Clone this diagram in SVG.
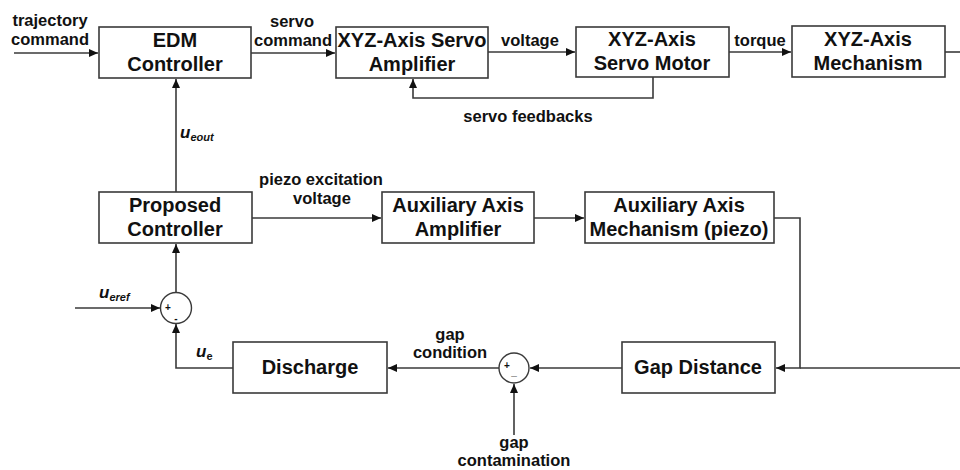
<svg xmlns="http://www.w3.org/2000/svg" width="960" height="470" viewBox="0 0 960 470">
<style>
.box{fill:#fff;stroke:#3a3a3a;stroke-width:1.6}
.sum{fill:#fff;stroke:#3a3a3a;stroke-width:1.4}
.t{font-family:"Liberation Sans",Arial,sans-serif;font-weight:bold;font-size:20px;fill:#111;text-anchor:middle}
.l{font-family:"Liberation Sans",Arial,sans-serif;font-weight:bold;font-size:16.5px;fill:#111;text-anchor:middle}
.v{font-family:"Liberation Sans",Arial,sans-serif;font-weight:bold;font-style:italic;font-size:17px;fill:#111}
.sub{font-size:11px}
.sg{font-family:"Liberation Sans",Arial,sans-serif;font-weight:bold;font-size:10px;fill:#111;text-anchor:middle}
.c{fill:none;stroke:#3a3a3a;stroke-width:1.6}
</style>
<defs>
<marker id="ah" markerUnits="userSpaceOnUse" markerWidth="10" markerHeight="10" viewBox="0 0 10 10" refX="9" refY="5" orient="auto">
<path d="M0,1 L9,5 L0,9 Z" fill="#111"/>
</marker>
</defs>
<g id="connectors">
<path class="c" d="M14,53 H98" marker-end="url(#ah)"/>
<path class="c" d="M251,53 H335" marker-end="url(#ah)"/>
<path class="c" d="M488,52 H575" marker-end="url(#ah)"/>
<path class="c" d="M729,52 H791" marker-end="url(#ah)"/>
<path class="c" d="M945,52 H960"/>
<path class="c" d="M653,77 V98 H413 V79" marker-end="url(#ah)"/>
<path class="c" d="M176,192 V79" marker-end="url(#ah)"/>
<path class="c" d="M252,218 H381" marker-end="url(#ah)"/>
<path class="c" d="M534,218 H584" marker-end="url(#ah)"/>
<path class="c" d="M774,218 H800 V368 H776" marker-end="url(#ah)"/>
<path class="c" d="M960,368 H800"/>
<path class="c" d="M622,368 H530" marker-end="url(#ah)"/>
<path class="c" d="M499,368 H388" marker-end="url(#ah)"/>
<path class="c" d="M514,435 V384" marker-end="url(#ah)"/>
<path class="c" d="M233,368 H176 V324" marker-end="url(#ah)"/>
<path class="c" d="M75,308 H160" marker-end="url(#ah)"/>
<path class="c" d="M176,292 V244" marker-end="url(#ah)"/>
</g>
<g id="labels">
<text class="l" x="50" y="26">trajectory</text>
<text class="l" x="50" y="45">command</text>
<text class="l" x="292" y="27">servo</text>
<text class="l" x="293" y="46">command</text>
<text class="l" x="530" y="46">voltage</text>
<text class="l" x="760" y="46">torque</text>
<text class="l" x="528" y="122">servo feedbacks</text>
<text class="l" x="321" y="185">piezo excitation</text>
<text class="l" x="322" y="204">voltage</text>
<text class="l" x="450" y="340">gap</text>
<text class="l" x="450" y="358">condition</text>
<text class="l" x="514" y="448">gap</text>
<text class="l" x="514" y="466">contamination</text>
<text class="v" x="180" y="138">u<tspan class="sub" dy="3">eout</tspan></text>
<text class="v" x="99" y="298">u<tspan class="sub" dy="3">eref</tspan></text>
<text class="v" x="196" y="357">u<tspan class="sub" dy="3" font-style="normal">e</tspan></text>
</g>
<g id="edm"><rect class="box" x="99" y="27" width="152" height="51"/><text class="t" x="175" y="47">EDM</text><text class="t" x="175" y="71">Controller</text></g>
<g id="amp"><rect class="box" x="336" y="27" width="152" height="51"/><text class="t" x="412" y="47">XYZ-Axis Servo</text><text class="t" x="412" y="71">Amplifier</text></g>
<g id="motor"><rect class="box" x="576" y="27" width="153" height="50"/><text class="t" x="652" y="46">XYZ-Axis</text><text class="t" x="652" y="70">Servo Motor</text></g>
<g id="mech"><rect class="box" x="792" y="26" width="153" height="51"/><text class="t" x="868" y="46">XYZ-Axis</text><text class="t" x="868" y="70">Mechanism</text></g>
<g id="proposed"><rect class="box" x="99" y="192" width="153" height="51"/><text class="t" x="175" y="212">Proposed</text><text class="t" x="175" y="236">Controller</text></g>
<g id="auxamp"><rect class="box" x="382" y="192" width="152" height="51"/><text class="t" x="458" y="212">Auxiliary Axis</text><text class="t" x="458" y="236">Amplifier</text></g>
<g id="auxmech"><rect class="box" x="585" y="192" width="189" height="51"/><text class="t" x="679" y="212">Auxiliary Axis</text><text class="t" x="679" y="236">Mechanism (piezo)</text></g>
<g id="gapdist"><rect class="box" x="622" y="342" width="153" height="51"/><text class="t" x="698" y="374">Gap Distance</text></g>
<g id="discharge"><rect class="box" x="233" y="342" width="154" height="51"/><text class="t" x="310" y="374">Discharge</text></g>
<g id="sum1"><circle class="sum" cx="176" cy="308" r="15.5"/><text class="sg" x="168" y="311">+</text><text class="sg" x="176" y="322">-</text></g>
<g id="sum2"><circle class="sum" cx="514" cy="368" r="15"/><text class="sg" x="507" y="369">+</text><text class="sg" x="514" y="375" font-size="13">_</text></g>
</svg>
